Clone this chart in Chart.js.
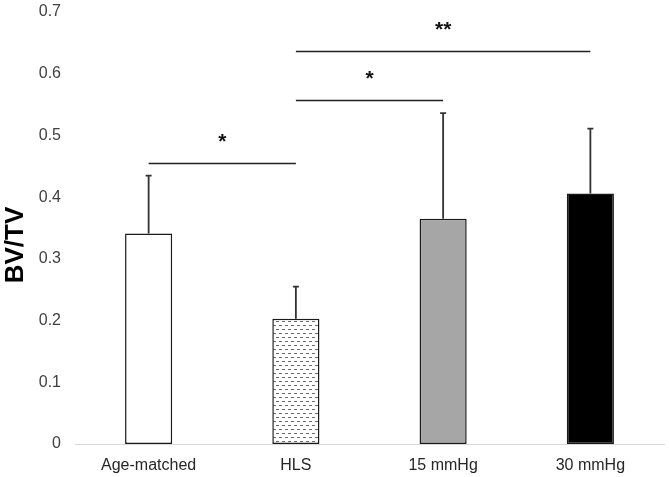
<!DOCTYPE html>
<html>
<head>
<meta charset="utf-8">
<script src="https://cdn.jsdelivr.net/npm/chart.js@4/dist/chart.umd.min.js"></script>
<style>
html,body{margin:0;padding:0;background:#fff;}
#wrap{width:669px;height:477px;position:relative;}
</style>
</head>
<body>
<div id="wrap"><canvas id="c" width="669" height="477"></canvas></div>
<script>
const categories = ["Age-matched", "HLS", "15 mmHg", "30 mmHg"];
const meanValues = [0.341, 0.203, 0.365, 0.406];
const errorValues = [0.094, 0.052, 0.171, 0.105];
const yTicks = [0, 0.1, 0.2, 0.3, 0.4, 0.5, 0.6, 0.7];
const yTitle = "BV/TV";
const brackets = [
  {from: 0, to: 1, y: 0.455, label: "*"},
  {from: 1, to: 2, y: 0.557, label: "*"},
  {from: 1, to: 3, y: 0.636, label: "**"}
];

function makePattern() {
  const p = document.createElement('canvas');
  p.width = 6; p.height = 8;
  const g = p.getContext('2d');
  g.fillStyle = '#ffffff';
  g.fillRect(0, 0, 6, 8);
  g.fillStyle = '#6a6a6a';
  g.fillRect(0, 1, 3, 1);
  g.fillRect(3, 5, 3, 1);
  return document.getElementById('c').getContext('2d').createPattern(p, 'repeat');
}

const fills = ['#ffffff', makePattern(), '#a6a6a6', '#000000'];

const overlay = {
  id: 'overlay',
  afterDatasetsDraw(chart) {
    const ctx = chart.ctx;
    const y = chart.scales.y;
    const meta = chart.getDatasetMeta(0);
    ctx.save();
    ctx.strokeStyle = '#333333';
    ctx.lineWidth = 1.8;
    meta.data.forEach((bar, i) => {
      const top = y.getPixelForValue(meanValues[i]);
      const end = y.getPixelForValue(meanValues[i] + errorValues[i]);
      ctx.beginPath();
      ctx.moveTo(bar.x, top);
      ctx.lineTo(bar.x, end);
      ctx.moveTo(bar.x - 3, end);
      ctx.lineTo(bar.x + 3, end);
      ctx.stroke();
    });
    ctx.strokeStyle = '#222222';
    ctx.lineWidth = 1.4;
    ctx.fillStyle = '#111111';
    ctx.font = 'bold 21px "Liberation Sans", Arial, sans-serif';
    ctx.textAlign = 'center';
    ctx.textBaseline = 'middle';
    brackets.forEach(b => {
      const x1 = meta.data[b.from].x;
      const x2 = meta.data[b.to].x;
      const py = Math.round(y.getPixelForValue(b.y)) + 0.5;
      ctx.beginPath();
      ctx.moveTo(x1, py);
      ctx.lineTo(x2, py);
      ctx.stroke();
      ctx.fillText(b.label, (x1 + x2) / 2, py - 21);
    });
    // y axis title
    ctx.fillStyle = '#000000';
    ctx.font = 'bold 26px "Liberation Sans", Arial, sans-serif';
    ctx.translate(16, (chart.chartArea.top + chart.chartArea.bottom) / 2 + 17);
    ctx.rotate(-Math.PI / 2);
    ctx.fillText(yTitle, 0, 0);
    ctx.restore();
  }
};

new Chart(document.getElementById('c'), {
  type: 'bar',
  data: {
    labels: categories,
    datasets: [{
      data: meanValues,
      backgroundColor: fills,
      borderColor: '#1a1a1a',
      borderWidth: 1.5,
      borderSkipped: false,
      categoryPercentage: 1.0,
      barPercentage: 0.32
    }]
  },
  options: {
    responsive: false,
    animation: false,
    devicePixelRatio: 1,
    layout: {padding: {top: 12, right: 5, left: 0, bottom: 0}},
    plugins: {legend: {display: false}, tooltip: {enabled: false}},
    scales: {
      x: {
        grid: {display: false},
        border: {color: '#d9d9d9', width: 1},
        afterFit(axis) { axis.height = 33; },
        ticks: {color: '#262626', font: {family: '"Liberation Sans", Arial, sans-serif', size: 16}, padding: 4}
      },
      y: {
        min: 0, max: 0.7,
        afterBuildTicks(axis) { axis.ticks = yTicks.map(v => ({value: v})); },
        afterFit(axis) { axis.width = 75; axis.paddingTop = 0; axis.paddingBottom = 0; },
        grid: {display: false},
        border: {display: false},
        ticks: {color: '#404040', font: {family: '"Liberation Sans", Arial, sans-serif', size: 16}, padding: 6,
          callback: v => String(v)}
      }
    }
  },
  plugins: [overlay]
});
</script>
</body>
</html>
